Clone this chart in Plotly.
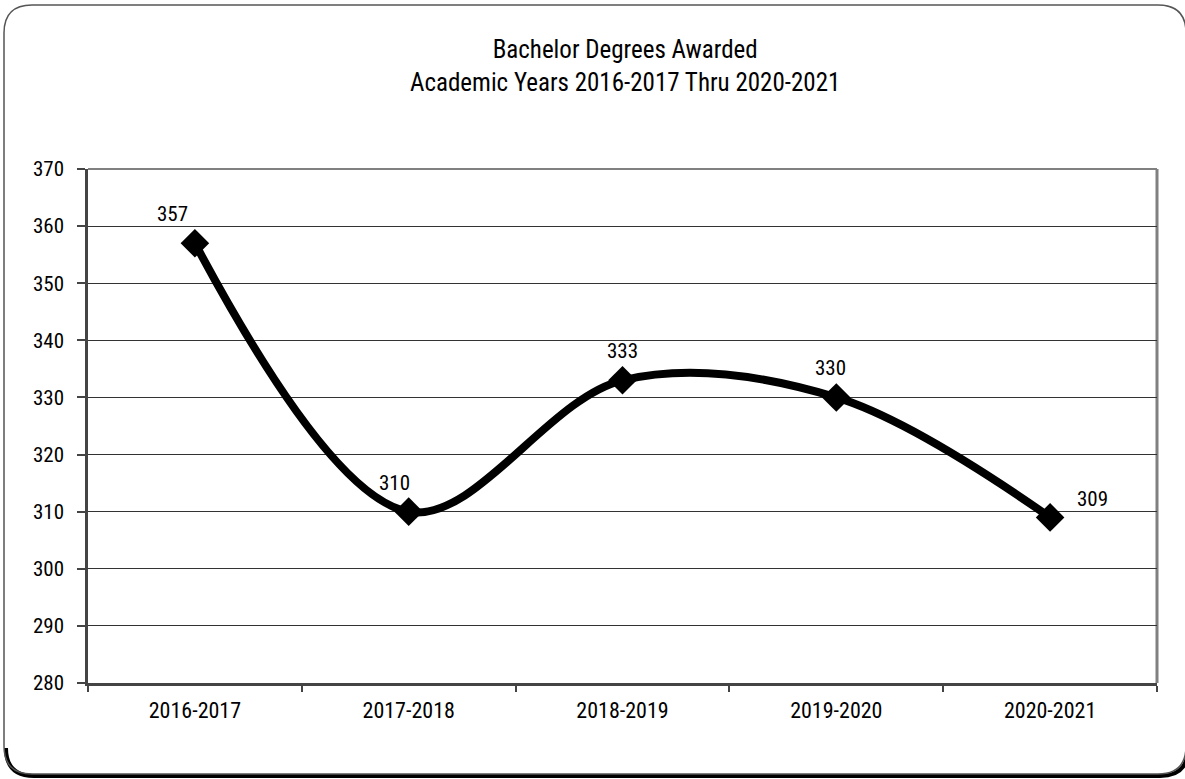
import plotly.graph_objects as go

categories = ["2016-2017", "2017-2018", "2018-2019", "2019-2020", "2020-2021"]
values = [357, 310, 333, 330, 309]
y_ticks = [280, 290, 300, 310, 320, 330, 340, 350, 360, 370]
title_text = "Bachelor Degrees Awarded<br>Academic Years 2016-2017 Thru 2020-2021"
# label offsets (pixels) relative to each point
label_dx = [-22, -14, 0, -6, 42]
label_dy = [29, 29, 29, 29, 18]

W, H = 1185, 779
L, R, T, B = 88, 28, 169, 96
PW, PH = W - L - R, H - T - B
FONT = "Liberation Sans Narrow, Arial Narrow, Roboto Condensed, DejaVu Sans Condensed, sans-serif"


def px(x):
    return (x - L) / PW


def py(y):
    return (H - B - y) / PH


def rounded_path(x0, y0, x1, y1, r):
    pts = [
        ("M", x0 + r, y0), ("L", x1 - r, y0), ("Q", x1, y0, x1, y0 + r),
        ("L", x1, y1 - r), ("Q", x1, y1, x1 - r, y1), ("L", x0 + r, y1),
        ("Q", x0, y1, x0, y1 - r), ("L", x0, y0 + r), ("Q", x0, y0, x0 + r, y0),
    ]
    s = ""
    for p in pts:
        cmd = p[0]
        coords = p[1:]
        parts = []
        for i in range(0, len(coords), 2):
            parts.append(f"{px(coords[i]):.5f},{py(coords[i+1]):.5f}")
        s += cmd + " " + " ".join(parts) + " "
    return s + "Z"


def shadow_path(x0, y0, x1, y1, r):
    s = f"M {px(x0):.5f},{py(y1 - r):.5f} Q {px(x0):.5f},{py(y1):.5f} {px(x0 + r):.5f},{py(y1):.5f} "
    s += f"L {px(x1 - r):.5f},{py(y1):.5f} Q {px(x1):.5f},{py(y1):.5f} {px(x1):.5f},{py(y1 - r):.5f} "
    s += f"L {px(x1):.5f},{py(y0 + r):.5f}"
    return s


fig = go.Figure()
fig.add_trace(go.Scatter(
    x=categories, y=values, mode="lines+markers",
    line=dict(color="black", width=8, shape="spline", smoothing=1.0),
    marker=dict(symbol="diamond", size=22, color="black"),
    hoverinfo="skip", showlegend=False, cliponaxis=False,
))

annotations = []
for c, v, dx, dy in zip(categories, values, label_dx, label_dy):
    annotations.append(dict(
        x=c, y=v, xref="x", yref="y", text=str(v), showarrow=False,
        xshift=dx, yshift=dy, font=dict(family=FONT, size=21, color="black"),
    ))

annotations.append(dict(
    x=0.5, y=py(66), xref="paper", yref="paper", text=title_text,
    showarrow=False, xanchor="center", yanchor="middle", xshift=2, align="center",
    font=dict(family=FONT, size=25, color="black"),
))

shapes = [
    dict(type="path", xref="paper", yref="paper", path=shadow_path(6, 7, 1188, 776, 28),
         line=dict(color="black", width=4), layer="below"),
    dict(type="path", xref="paper", yref="paper", path=rounded_path(4, 5, 1186, 774, 28),
         line=dict(color="#555555", width=1.5), layer="below"),
    dict(type="line", xref="paper", yref="paper", x0=0, x1=1, y0=1, y1=1,
         line=dict(color="#808080", width=2), layer="below"),
    dict(type="line", xref="paper", yref="paper", x0=1, x1=1, y0=0, y1=1,
         line=dict(color="#808080", width=3), layer="below"),
]

fig.update_layout(
    width=W, height=H,
    margin=dict(l=L, r=R, t=T, b=B),
    paper_bgcolor="white", plot_bgcolor="white",
    xaxis=dict(
        type="category", tickson="boundaries", ticks="outside", ticklen=6,
        tickcolor="#444444", tickwidth=1.5,
        showline=True, linecolor="#444444", linewidth=2.5,
        showgrid=False, zeroline=False, ticklabelstandoff=6,
        tickfont=dict(family=FONT, size=22, color="black"),
        range=[-0.5, 4.5],
    ),
    yaxis=dict(
        range=[280, 370], tickvals=y_ticks, ticks="outside", ticklen=8,
        tickcolor="#444444", tickwidth=1.5,
        showline=True, linecolor="#444444", linewidth=2.5,
        showgrid=True, gridcolor="#333333", gridwidth=1,
        zeroline=False, ticklabelstandoff=9,
        tickfont=dict(family=FONT, size=21, color="black"),
    ),
    annotations=annotations,
    shapes=shapes,
)

fig.write_html(
    "out.html",
    config={"displayModeBar": False},
    post_script="document.body.style.margin='0';document.body.style.padding='0';",
)
